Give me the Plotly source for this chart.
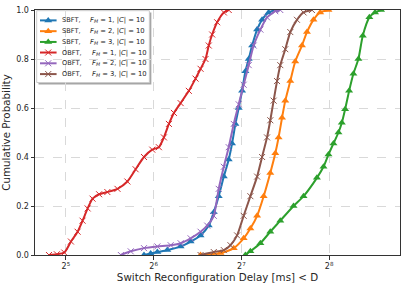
import plotly.graph_objects as go

# Delay values [ms] and cumulative probabilities
sbft1_x = [59.3, 62.5, 65.9, 71.3, 79.2, 85.7, 92.7, 98.9, 102.9, 107.0, 111.4, 115.8, 118.9, 122.1,
           125.3, 128.7, 132.1, 135.6, 139.3, 144.9, 150.7, 158.7, 167.3]
sbft1_y = [0.0, 0.006, 0.012, 0.02, 0.035, 0.055, 0.08, 0.12, 0.175, 0.24, 0.32, 0.39, 0.455, 0.535,
           0.60, 0.67, 0.75, 0.80, 0.855, 0.92, 0.96, 0.99, 1.0]

sbft2_x = [92.7, 108.5, 120.5, 130.3, 137.4, 144.9, 152.6, 160.8, 167.3, 171.7, 176.4, 181.0, 188.3,
           195.8, 206.5, 214.8, 226.2, 238.5, 254.6]
sbft2_y = [0.0, 0.008, 0.028, 0.068, 0.108, 0.16, 0.24, 0.335, 0.415, 0.48, 0.56, 0.63, 0.71,
           0.79, 0.855, 0.91, 0.96, 0.99, 1.0]

sbft3_x = [132.1, 137.4, 148.7, 160.8, 174.0, 193.2, 209.1, 232.4, 244.8, 254.6, 264.8, 275.5, 282.9,
           290.4, 299.7, 310.0, 322.5, 333.8, 351.6, 367.8, 385.6]
sbft3_y = [0.0, 0.015, 0.048, 0.095, 0.14, 0.20, 0.24, 0.315, 0.36, 0.41, 0.455, 0.50, 0.54,
           0.595, 0.67, 0.74, 0.80, 0.895, 0.97, 0.99, 1.0]

obft1_x = [28.0, 29.8, 31.6, 33.3, 35.1, 36.5, 38.0, 39.5, 41.6, 44.4, 48.1, 52.0, 55.5, 59.3, 63.3,
           66.7, 69.4, 72.2, 75.1, 79.2, 84.5, 89.1, 92.7, 96.4, 98.9, 101.6, 105.7, 111.4, 115.8]
obft1_y = [0.0, 0.003, 0.01, 0.055, 0.095, 0.14, 0.19, 0.23, 0.248, 0.257, 0.27, 0.30, 0.35, 0.40, 0.43,
           0.44, 0.48, 0.535, 0.58, 0.62, 0.67, 0.72, 0.76, 0.80, 0.855, 0.90, 0.95, 0.99, 1.0]

obft2_x = [49.4, 53.4, 59.3, 65.9, 73.2, 79.2, 85.7, 92.7, 97.7, 102.9, 107.0, 111.4, 115.8, 120.5,
           125.3, 130.3, 135.6, 141.0, 148.7, 156.7, 167.3, 174.0]
obft2_y = [0.0, 0.015, 0.028, 0.035, 0.04, 0.048, 0.068, 0.095, 0.12, 0.16, 0.27, 0.36, 0.44, 0.535,
           0.615, 0.695, 0.775, 0.855, 0.92, 0.97, 0.995, 1.0]

obft3_x = [92.7, 102.9, 111.4, 117.4, 123.7, 130.3, 137.4, 144.9, 150.7, 156.7, 160.8, 165.1, 169.6,
           174.0, 181.0, 188.3, 198.5, 209.1, 223.4]
obft3_y = [0.0, 0.012, 0.02, 0.04, 0.08, 0.16, 0.24, 0.32, 0.40, 0.48, 0.55, 0.63, 0.71,
           0.775, 0.84, 0.91, 0.96, 0.99, 1.0]

x_tick_vals = [32, 64, 128, 256]
x_tick_text = ["2<sup>5</sup>", "2<sup>6</sup>", "2<sup>7</sup>", "2<sup>8</sup>"]
y_tick_vals = [0.0, 0.2, 0.4, 0.6, 0.8, 1.0]

schemes = ["SBFT", "SBFT", "SBFT", "OBFT", "OBFT", "OBFT"]
fm_values = [1, 2, 3, 1, 2, 3]
colors = ["#1f77b4", "#ff7f0e", "#2ca02c", "#d62728", "#9467bd", "#8c564b"]
symbols = ["triangle-up"] * 3 + ["x-thin"] * 3
xs_all = [sbft1_x, sbft2_x, sbft3_x, obft1_x, obft2_x, obft3_x]
ys_all = [sbft1_y, sbft2_y, sbft3_y, obft1_y, obft2_y, obft3_y]

# figure geometry (pixels)
W, H = 407, 287
ML, MR, MT, MB = 34, 6, 7, 30
PW, PH = W - ML - MR, H - MT - MB


def fx(px):  # pixel x -> plot-area fraction
    return (px - ML) / PW


def fy(py):  # pixel y -> plot-area fraction
    return (H - MB - py) / PH


def marker_style(sym, color):
    tri = sym == "triangle-up"
    return dict(symbol=sym, size=7 if tri else 6, color=color,
                line=dict(color=color, width=0 if tri else 1))


fig = go.Figure()
for xs, ys, color, sym in zip(xs_all, ys_all, colors, symbols):
    fig.add_trace(go.Scatter(
        x=xs, y=ys, mode="lines+markers", showlegend=False,
        line=dict(color=color, width=2, shape="spline", smoothing=0.6),
        marker=marker_style(sym, color),
    ))

# ---- manual legend (matplotlib-like compact box) ----
shapes = [
    dict(type="rect", xref="paper", yref="paper", layer="between",
         x0=fx(37.5), x1=fx(151), y0=fy(83), y1=fy(9.5),
         fillcolor="#a6a6a6", line=dict(width=0)),
    dict(type="rect", xref="paper", yref="paper", layer="between",
         x0=fx(35.7), x1=fx(149), y0=fy(81), y1=fy(7.7),
         fillcolor="white", line=dict(color="#cccccc", width=1)),
]
annotations = []
row_y = [17.6, 28.6, 39.6, 50.4, 61.4, 72.4]
for i in range(6):
    yy = fy(row_y[i])
    fig.add_trace(go.Scatter(
        x=[fx(39), fx(55.7)], y=[yy, yy], xaxis="x2", yaxis="y2", mode="lines",
        line=dict(color=colors[i], width=2), showlegend=False, hoverinfo="skip"))
    fig.add_trace(go.Scatter(
        x=[fx(47.3)], y=[yy], xaxis="x2", yaxis="y2", mode="markers",
        marker=marker_style(symbols[i], colors[i]), showlegend=False, hoverinfo="skip"))
    annotations.append(dict(
        xref="paper", yref="paper", x=fx(60.2), y=yy, xanchor="left", yanchor="middle",
        text=f"{schemes[i]},", showarrow=False, borderpad=0,
        font=dict(size=6.6, color="#262626")))
    fstart = 88.0 if schemes[i] == "SBFT" else 90.4
    annotations.append(dict(
        xref="paper", yref="paper", x=fx(fstart), y=yy, xanchor="left", yanchor="middle",
        text=f"<i>F<sub>M</sub></i>\u00a0=\u00a0{fm_values[i]},\u00a0|<i>C</i>|\u00a0=\u00a010",
        showarrow=False, borderpad=0, font=dict(size=6.8, color="#262626")))

axis_common = dict(
    showline=True, linecolor="#333333", linewidth=1, mirror=True,
    ticks="outside", ticklen=3.5, tickcolor="#333333", tickwidth=1,
    showgrid=True, gridcolor="#d9d9d9", griddash="dash", gridwidth=0.8,
    zeroline=False, tickfont=dict(size=8, color="#262626"),
)

fig.update_layout(
    width=W, height=H,
    margin=dict(l=ML, r=MR, t=MT, b=MB),
    paper_bgcolor="white", plot_bgcolor="white",
    font=dict(family="DejaVu Sans", color="#262626"),
    xaxis=dict(type="log", range=[1.3992, 2.6512], tickvals=x_tick_vals, ticktext=x_tick_text,
               title=dict(text="Switch Reconfiguration Delay [ms] < D", font=dict(size=10.3), standoff=3),
               **axis_common),
    yaxis=dict(range=[0, 1.0], tickvals=y_tick_vals, tickformat=".1f",
               title=dict(text="Cumulative Probability", font=dict(size=10.3), standoff=3),
               **axis_common),
    xaxis2=dict(overlaying="x", range=[0, 1], visible=False, fixedrange=True),
    yaxis2=dict(overlaying="y", range=[0, 1], visible=False, fixedrange=True),
    shapes=shapes, annotations=annotations,
    showlegend=False,
)

fig.write_html("out.html", config={"displayModeBar": False},
               post_script="document.body.style.margin='0';")
